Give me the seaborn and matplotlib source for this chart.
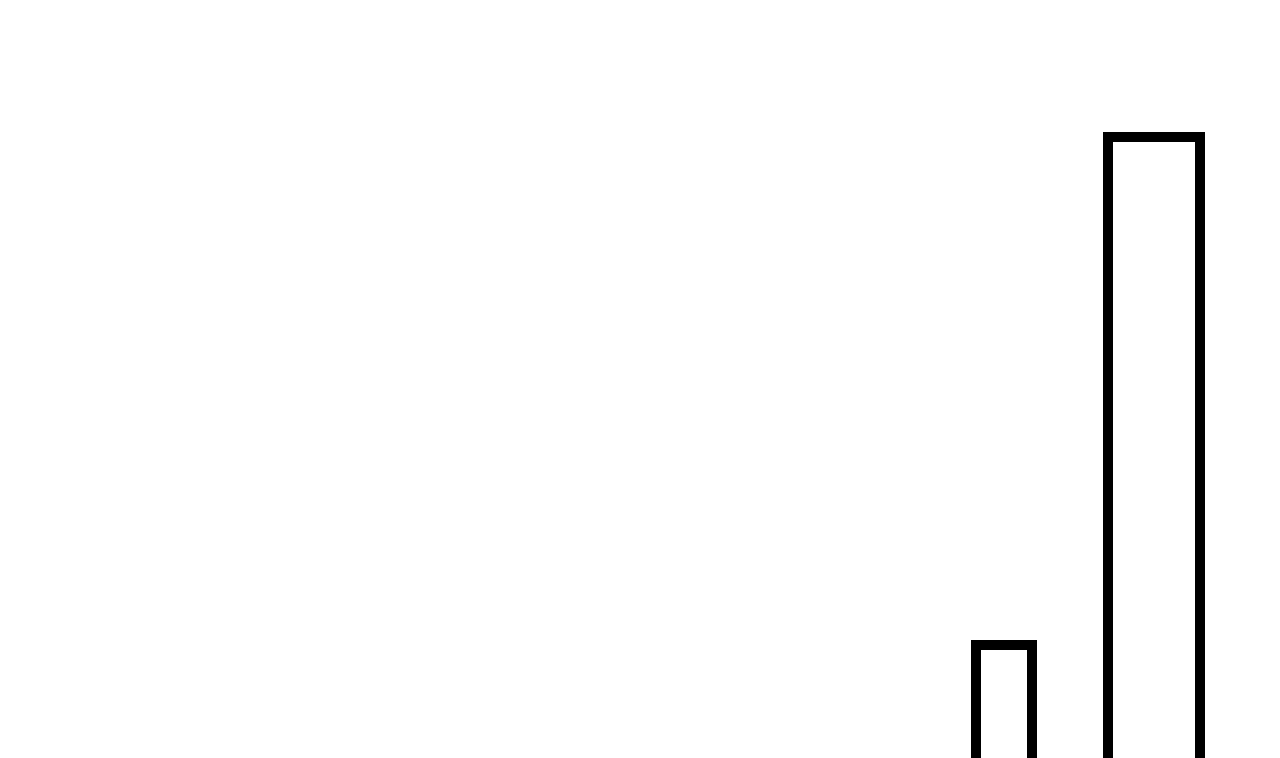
import matplotlib
matplotlib.use("Agg")
import matplotlib.pyplot as plt
import seaborn as sns

# bar data
bar_centers = [10.04, 11.54]
bar_heights = [1.0, 5.0]
bar_widths = [0.56, 0.92]

sns.set_style("white")

fig = plt.figure(figsize=(12.8, 7.58), dpi=100)
ax = fig.add_axes([0, 0, 1, 1])

# draw outlined bars
sns.barplot(x=bar_centers, y=bar_heights, native_scale=True, color="white",
            saturation=1, edgecolor="black", linewidth=7.2, ax=ax)

# give each bar its own width
for patch, c, w in zip(ax.patches, bar_centers, bar_widths):
    patch.set_x(c - w / 2)
    patch.set_width(w)

ax.set_xlim(0, 12.8)
ax.set_ylim(0.110, 6.079)
ax.axis("off")

fig.savefig("out.png", dpi=100, facecolor="white")
